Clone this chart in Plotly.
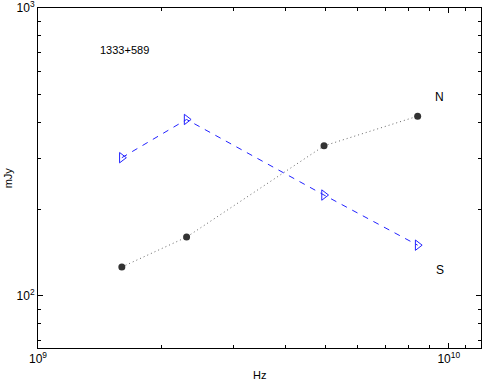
import numpy as np
import plotly.graph_objects as go

# frequencies (Hz) and flux densities (mJy)
freq_n = [1.6e9, 2.3e9, 4.97e9, 8.4e9]
flux_n = [126, 160, 332, 421]
freq_s = [1.6e9, 2.3e9, 4.97e9, 8.4e9]
flux_s = [302, 410, 224, 150]

source_name = "1333+589"

x_major = [1e9, 1e10]
x_major_text = ["10<sup>9</sup>", "10<sup>10</sup>"]
y_major = [1e2, 1e3]
y_major_text = ["10<sup>2</sup>", "10<sup>3</sup>"]
x_minor = [k * 1e9 for k in range(2, 10)] + [1.1e10]
y_minor = [k * 10 for k in range(7, 10)] + [k * 100 for k in range(2, 10)]

font = dict(family="Liberation Sans, Arial, sans-serif", size=12, color="black")

fig = go.Figure()

fig.add_trace(go.Scatter(
    x=freq_n, y=flux_n, mode="lines+markers", name="N",
    line=dict(color="#666666", width=1, dash="1px,3px"),
    marker=dict(color="#333333", size=7, symbol="circle"),
    showlegend=False,
))
fig.add_trace(go.Scatter(
    x=freq_s, y=flux_s, mode="lines+markers", name="S",
    line=dict(color="#2222ff", width=1, dash="6px,6px"),
    marker=dict(color="#2222ff", size=9, symbol="triangle-right-open", line=dict(width=1)),
    showlegend=False,
))

axis_common = dict(
    type="log", showgrid=False, zeroline=False, automargin=False,
    showline=True, linecolor="black", linewidth=1, mirror="allticks",
    ticks="inside", ticklen=5, tickcolor="black",
    tickfont=font, ticklabeloverflow="allow",
)

fig.update_xaxes(
    **axis_common,
    range=[9, 10.0785],
    tickmode="array", tickvals=x_major, ticktext=x_major_text,
    minor=dict(tickmode="array", tickvals=x_minor, ticks="inside", ticklen=3, tickcolor="black"),
)
fig.update_yaxes(
    **axis_common,
    range=[np.log10(65.9), 3],
    tickmode="array", tickvals=y_major, ticktext=y_major_text,
    minor=dict(tickmode="array", tickvals=y_minor, ticks="inside", ticklen=3, tickcolor="black"),
)

fig.update_layout(
    width=483, height=380,
    margin=dict(l=38, r=2, t=8, b=32),
    paper_bgcolor="white", plot_bgcolor="white",
    font=font,
    annotations=[
        dict(x=np.log10(1.62e9), y=np.log10(714), text=source_name, showarrow=False, font=dict(font, size=11)),
        dict(x=np.log10(9.5e9), y=np.log10(490), text="N", showarrow=False),
        dict(x=np.log10(9.5e9), y=np.log10(123), text="S", showarrow=False),
        dict(xref="paper", yref="paper", x=0.5, y=-0.055, yanchor="top",
             text="Hz", showarrow=False, font=dict(font, size=11)),
        dict(xref="paper", yref="paper", x=-0.067, y=0.5, xanchor="center",
             text="mJy", textangle=-90, showarrow=False, font=dict(font, size=11)),
    ],
)

fig.write_html("out.html", config={"displayModeBar": False},
               post_script="document.body.style.margin='0';")
